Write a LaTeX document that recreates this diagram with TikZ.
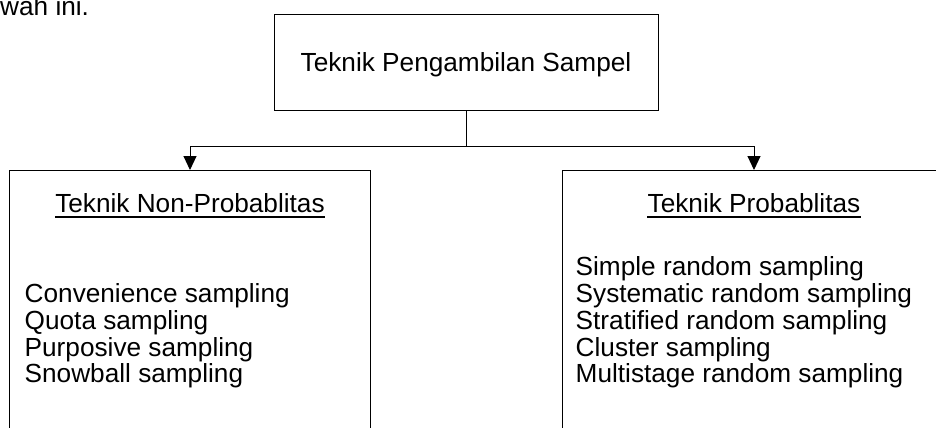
\documentclass[tikz,border=0pt]{standalone}
\usepackage{fontspec}
\setmainfont{Liberation Sans}
\usetikzlibrary{arrows.meta}
\begin{document}
\begin{tikzpicture}[x=1bp,y=-1bp,
  every node/.style={font=\fontsize{26.2bp}{26.8bp}\selectfont},
  boxnode/.style={draw, line width=1bp, inner sep=0pt},
  txt/.style={inner sep=0pt, anchor=base west},
  head/.style={inner sep=0pt, anchor=base},
  arr/.style={line width=1bp, -{Triangle[width=13bp,length=14bp]}},
  uline/.style={line width=1.9bp}]
\useasboundingbox (0,0) rectangle (936,427);
\clip (0,0) rectangle (936,427);
% partially visible text at top left
\node[txt] (prev) at (0,15) {wah ini.};
% boxes
\node[boxnode, minimum width=384bp, minimum height=96bp] (top) at (466,62) {};
\node[inner sep=0pt, anchor=base] (toptext) at (466,71.5) {Teknik Pengambilan Sampel};
\node[boxnode, minimum width=360bp, minimum height=280bp] (left) at (190,310) {};
\node[boxnode, minimum width=390bp, minimum height=280bp] (right) at (757,310) {};
% connectors
\coordinate (j) at (466,146);
\draw[line width=1bp] (top.south) -- (j);
\draw[arr] (j) -| (190,170) coordinate (la);
\draw[arr] (j) -| (754,170) coordinate (ra);
% headings
\node[head] (h1) at (190,212) {Teknik Non-Probablitas};
\draw[uline] ([yshift=-4.8bp]h1.base west) -- ([yshift=-4.8bp]h1.base east);
\node[head] (h2) at (754,212) {Teknik Probablitas};
\draw[uline] ([yshift=-4.8bp]h2.base west) -- ([yshift=-4.8bp]h2.base east);
% left list
\node[txt] (l1) at (24.5,302.5) {Convenience sampling};
\node[txt] (l2) at (24.5,329.3) {Quota sampling};
\node[txt] (l3) at (24.5,356.1) {Purposive sampling};
\node[txt] (l4) at (24.5,382.9) {Snowball sampling};
% right list
\node[txt] (r1) at (575.5,275.7) {Simple random sampling};
\node[txt] (r2) at (575.5,302.5) {Systematic random sampling};
\node[txt] (r3) at (575.5,329.3) {Stratified random sampling};
\node[txt] (r4) at (575.5,356.1) {Cluster sampling};
\node[txt] (r5) at (575.5,382.9) {Multistage random sampling};
\end{tikzpicture}
\end{document}
